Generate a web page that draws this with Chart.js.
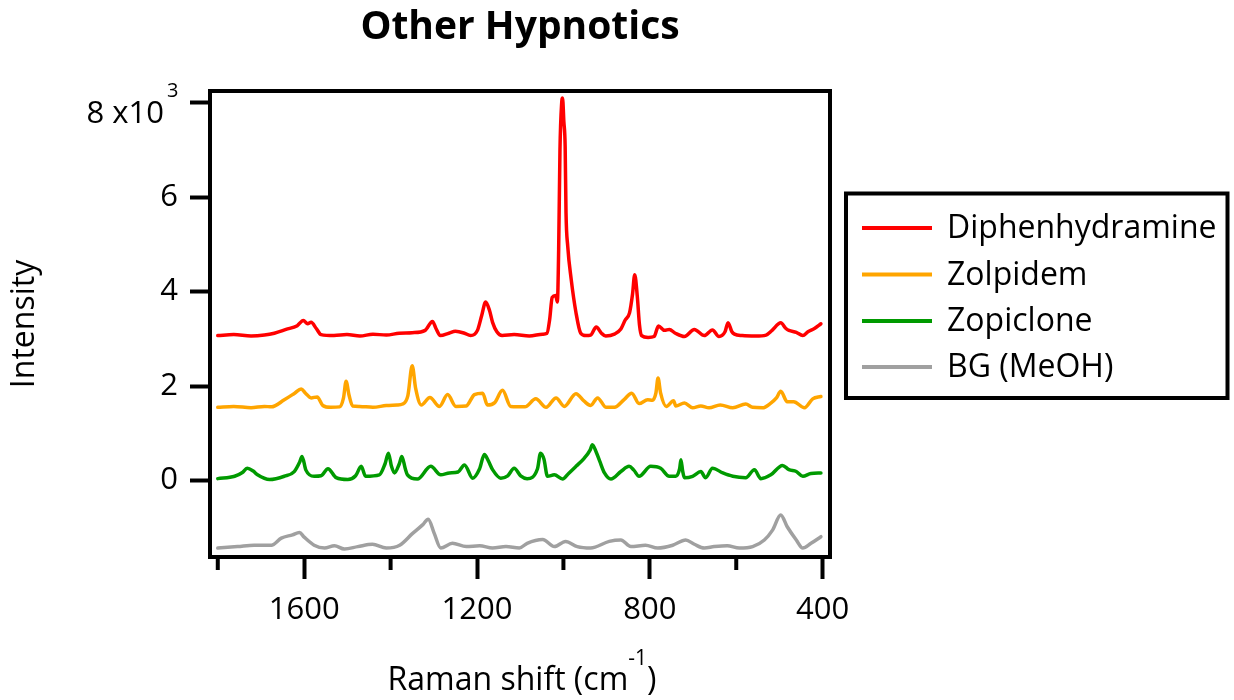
<!DOCTYPE html>
<html>
<head>
<meta charset="utf-8">
<script src="https://cdn.jsdelivr.net/npm/chart.js@4.4.1/dist/chart.umd.min.js"></script>
<style>
  html, body { margin: 0; padding: 0; background: #fff; }
  #wrap { width: 1234px; height: 700px; }
</style>
</head>
<body>
<div id="wrap"><canvas id="c" width="1234" height="700"></canvas></div>
<script>
const FONT = "'Open Sans', sans-serif";

// Raman shift (cm-1) and intensity (x10^3 counts), one pair of arrays per sample
const diphenShift = [1800,1763,1723,1692,1669,1642,1616,1602,1592,1584,1572,1561,1531,1501,1471,1441,1410,1380,1350,1320,1303,1295,1285,1265,1250,1229,1215,1199,1189,1180,1171,1164,1154,1142,1114,1079,1048,1038,1032,1026,1018,1014,1011,1008,1004,1002,999,996,994,990,982,971,960,948,937,924,912,902,882,867,857,847,840,835,829,824,819,804,790,780,766,755,741,720,697,674,655,640,626,619,610,604,586,555,531,517,497,485,478,461,446,434,419,404];
const diphenIntensity = [3.07,3.09,3.06,3.08,3.12,3.20,3.28,3.39,3.32,3.35,3.22,3.09,3.07,3.09,3.06,3.10,3.08,3.12,3.13,3.18,3.37,3.22,3.07,3.12,3.16,3.12,3.07,3.18,3.50,3.78,3.60,3.35,3.15,3.07,3.09,3.06,3.10,3.12,3.40,3.88,3.92,3.78,4.90,7.00,8.00,8.10,7.60,7.08,5.67,4.96,4.26,3.56,3.12,3.07,3.08,3.25,3.12,3.06,3.10,3.21,3.40,3.55,3.95,4.36,3.90,3.30,3.07,3.03,3.05,3.27,3.18,3.20,3.12,3.05,3.20,3.07,3.19,3.05,3.15,3.34,3.15,3.10,3.07,3.06,3.08,3.18,3.34,3.22,3.18,3.14,3.07,3.15,3.22,3.32];

const zolpShift = [1800,1763,1723,1692,1676,1646,1622,1607,1597,1584,1570,1557,1538,1518,1509,1503,1496,1488,1472,1441,1410,1385,1372,1360,1350,1342,1329,1309,1287,1268,1249,1225,1206,1187,1176,1159,1141,1122,1089,1064,1040,1017,998,971,952,937,921,901,882,859,842,825,805,794,786,781,775,762,745,740,720,701,682,663,637,608,578,562,539,520,507,497,482,467,442,423,404];
const zolpIntensity = [1.55,1.57,1.54,1.57,1.56,1.71,1.85,1.94,1.85,1.75,1.77,1.59,1.55,1.56,1.75,2.10,1.80,1.58,1.57,1.55,1.59,1.60,1.62,1.80,2.43,1.95,1.60,1.76,1.57,1.82,1.57,1.58,1.82,1.85,1.60,1.65,1.91,1.57,1.56,1.73,1.55,1.75,1.57,1.84,1.68,1.59,1.75,1.55,1.55,1.72,1.85,1.63,1.71,1.70,1.85,2.17,1.85,1.57,1.69,1.58,1.64,1.54,1.58,1.54,1.60,1.54,1.62,1.55,1.54,1.64,1.75,1.89,1.67,1.67,1.54,1.73,1.78];

const zopiShift = [1800,1761,1743,1732,1718,1708,1680,1646,1623,1610,1605,1596,1577,1561,1545,1526,1499,1481,1468,1458,1426,1413,1405,1398,1391,1380,1374,1366,1361,1338,1307,1284,1264,1244,1229,1210,1194,1183,1174,1164,1145,1129,1114,1099,1084,1060,1053,1045,1037,1021,1002,988,971,952,938,933,924,916,905,890,867,848,837,825,798,775,755,740,731,728,724,720,701,682,671,655,631,608,578,558,543,520,493,478,461,446,427,404];
const zopiIntensity = [0.04,0.09,0.17,0.26,0.20,0.12,0.02,0.09,0.19,0.40,0.51,0.22,0.09,0.10,0.25,0.06,0.02,0.10,0.30,0.09,0.12,0.35,0.58,0.30,0.16,0.35,0.51,0.25,0.12,0.03,0.30,0.12,0.16,0.18,0.33,0.05,0.25,0.55,0.42,0.23,0.05,0.10,0.26,0.10,0.04,0.25,0.58,0.45,0.09,0.12,0.03,0.15,0.30,0.47,0.65,0.76,0.60,0.41,0.16,0.03,0.19,0.30,0.22,0.09,0.30,0.26,0.09,0.09,0.25,0.44,0.20,0.06,0.09,0.19,0.06,0.26,0.16,0.09,0.06,0.23,0.04,0.12,0.32,0.23,0.19,0.09,0.15,0.16];

const bgShift = [1800,1754,1716,1676,1653,1627,1611,1600,1577,1553,1530,1507,1476,1442,1410,1379,1349,1326,1313,1299,1284,1257,1225,1194,1164,1133,1102,1084,1048,1021,995,968,937,894,867,844,810,782,747,717,697,674,651,621,593,562,535,516,497,482,461,446,427,404];
const bgIntensity = [-1.43,-1.40,-1.37,-1.37,-1.22,-1.15,-1.10,-1.20,-1.37,-1.43,-1.38,-1.45,-1.40,-1.35,-1.43,-1.37,-1.12,-0.94,-0.82,-1.12,-1.43,-1.33,-1.40,-1.38,-1.43,-1.40,-1.43,-1.33,-1.25,-1.40,-1.29,-1.40,-1.43,-1.29,-1.26,-1.40,-1.37,-1.43,-1.37,-1.26,-1.35,-1.43,-1.40,-1.38,-1.43,-1.40,-1.26,-1.05,-0.73,-0.98,-1.26,-1.43,-1.33,-1.19];

const seriesLabels = ['Diphenhydramine', 'Zolpidem', 'Zopiclone', 'BG (MeOH)'];
const seriesColors = ['#ff0000', '#ffa500', '#009a00', '#a0a0a0'];

// axis ticks: every 200 cm-1 gets a mark, every 400 cm-1 a labelled long mark
const xTickValues = [1800, 1600, 1400, 1200, 1000, 800, 600, 400];
const xLabelledTicks = [1600, 1200, 800, 400];
const yTickValues = [0, 2, 4, 6, 8];

const toPoints = (xs, ys) => xs.map((x, i) => ({ x: x, y: ys[i] }));
const seriesData = [
  toPoints(diphenShift, diphenIntensity),
  toPoints(zolpShift, zolpIntensity),
  toPoints(zopiShift, zopiIntensity),
  toPoints(bgShift, bgIntensity)
];

Chart.defaults.font.family = FONT;
Chart.defaults.color = '#000';

const decorations = {
  id: 'decorations',
  afterDraw(chart) {
    const { ctx, chartArea: a, scales: { x, y } } = chart;
    ctx.save();
    ctx.strokeStyle = '#000';
    ctx.fillStyle = '#000';

    // plot frame
    ctx.lineWidth = 4;
    ctx.strokeRect(a.left, a.top, a.right - a.left, a.bottom - a.top);

    // short unlabelled ticks on the shift axis
    xTickValues.filter(v => !xLabelledTicks.includes(v)).forEach(v => {
      const px = x.getPixelForValue(v);
      ctx.beginPath();
      ctx.moveTo(px, a.bottom);
      ctx.lineTo(px, a.bottom + 13);
      ctx.stroke();
    });

    // top intensity label with its exponent
    const py8 = y.getPixelForValue(8);
    ctx.font = `31px ${FONT}`;
    ctx.textAlign = 'right';
    ctx.textBaseline = 'alphabetic';
    ctx.fillText('8 x10', a.left - 46, py8 + 20);
    ctx.font = `20px ${FONT}`;
    ctx.textAlign = 'left';
    ctx.fillText('3', a.left - 43, py8 - 6);

    // shift axis title with superscript unit
    const main = 'Raman shift (cm';
    const sup = '-1';
    const close = ')';
    ctx.font = `32px ${FONT}`;
    const wMain = ctx.measureText(main).width;
    const wClose = ctx.measureText(close).width;
    ctx.font = `21px ${FONT}`;
    const wSup = ctx.measureText(sup).width;
    const cx = (a.left + a.right) / 2 + 2;
    let tx = cx - (wMain + wSup + wClose) / 2;
    const base = 690;
    ctx.font = `32px ${FONT}`;
    ctx.fillText(main, tx, base);
    tx += wMain;
    ctx.font = `21px ${FONT}`;
    ctx.fillText(sup, tx, base - 25);
    tx += wSup;
    ctx.font = `32px ${FONT}`;
    ctx.fillText(close, tx, base);

    // legend box
    ctx.lineWidth = 4;
    ctx.strokeRect(846, 193.5, 381.5, 204.5);
    const rowY = [228, 274.5, 321, 367];
    ctx.font = `32px ${FONT}`;
    ctx.textBaseline = 'middle';
    chart.data.datasets.forEach((ds, i) => {
      ctx.strokeStyle = ds.borderColor;
      ctx.lineWidth = 4;
      ctx.beginPath();
      ctx.moveTo(862, rowY[i]);
      ctx.lineTo(932, rowY[i]);
      ctx.stroke();
      ctx.fillStyle = '#000';
      ctx.fillText(ds.label, 947, rowY[i] + 1);
    });
    ctx.restore();
  }
};

new Chart(document.getElementById('c'), {
  type: 'line',
  data: {
    datasets: seriesLabels.map((label, i) => ({
      label: label,
      data: seriesData[i],
      borderColor: seriesColors[i],
      backgroundColor: seriesColors[i],
      borderWidth: 3.5,
      borderJoinStyle: 'round',
      borderCapStyle: 'round',
      cubicInterpolationMode: 'monotone',
      pointRadius: 0,
      fill: false
    }))
  },
  options: {
    responsive: false,
    animation: false,
    devicePixelRatio: 1,
    layout: { padding: { left: 0, right: 404, top: 0, bottom: 0 } },
    plugins: {
      legend: { display: false },
      tooltip: { enabled: false },
      title: {
        display: true,
        fullSize: false,
        text: 'Other Hypnotics',
        color: '#000',
        font: { family: FONT, size: 39, weight: 'bold', lineHeight: 1.2 },
        padding: { top: 4, bottom: 40.2 }
      }
    },
    scales: {
      x: {
        type: 'linear',
        reverse: true,
        min: 383,
        max: 1818,
        afterFit: s => { s.height = 143; },
        afterBuildTicks: s => { s.ticks = xTickValues.map(v => ({ value: v })); },
        ticks: {
          autoSkip: false,
          maxRotation: 0,
          padding: 13,
          font: { size: 31 },
          color: '#000',
          callback: v => (xLabelledTicks.includes(v) ? String(v) : '')
        },
        grid: {
          drawOnChartArea: false,
          drawTicks: true,
          tickLength: 22,
          tickWidth: 4,
          tickColor: c => (c.tick && xLabelledTicks.includes(c.tick.value) ? '#000' : 'rgba(0,0,0,0)')
        },
        border: { display: true, color: '#000', width: 4 }
      },
      y: {
        type: 'linear',
        min: -1.62,
        max: 8.25,
        afterFit: s => { s.width = 210; },
        afterBuildTicks: s => { s.ticks = yTickValues.map(v => ({ value: v })); },
        ticks: {
          padding: 12,
          font: { size: 31 },
          color: '#000',
          callback: v => (v === 8 ? '' : String(v))
        },
        grid: {
          drawOnChartArea: false,
          drawTicks: true,
          tickLength: 20,
          tickWidth: 4,
          tickColor: '#000'
        },
        border: { display: true, color: '#000', width: 4 },
        title: {
          display: true,
          text: 'Intensity',
          color: '#000',
          font: { size: 32, lineHeight: 1.2 },
          padding: { top: 6, bottom: 0 }
        }
      }
    }
  },
  plugins: [decorations]
});
</script>
</body>
</html>
